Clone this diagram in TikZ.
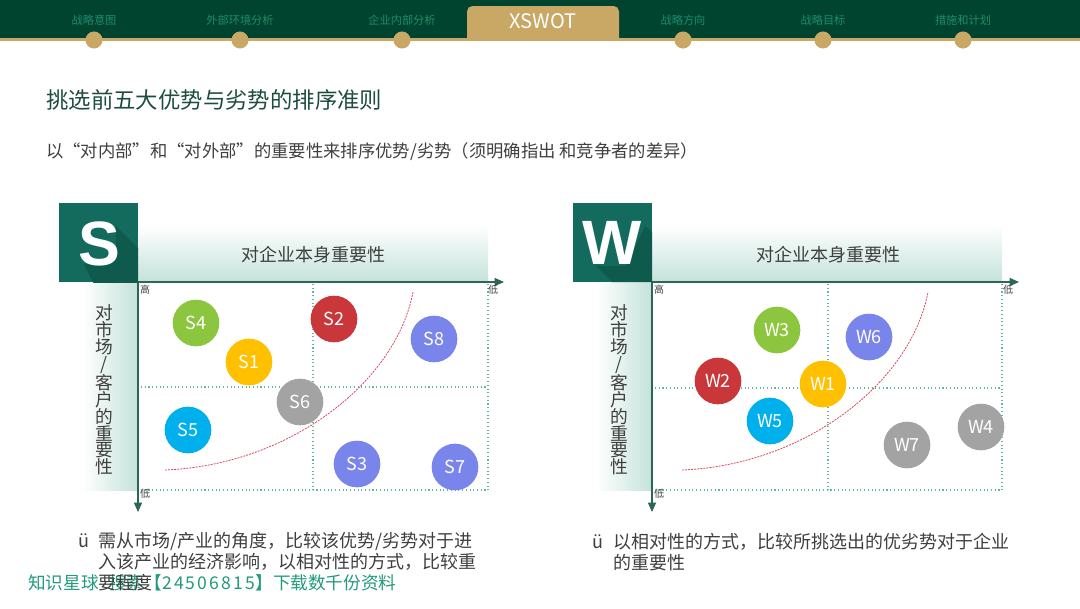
\documentclass[tikz,border=0pt]{standalone}
\usepackage{fontspec}
\newfontfamily\cjk{Noto Sans CJK SC}
\newfontfamily\lsans{Liberation Sans}
\usetikzlibrary{arrows.meta}
\definecolor{navbg}{HTML}{00442F}
\definecolor{gold}{HTML}{C9A865}
\definecolor{navtxt}{HTML}{1F8C6C}
\definecolor{titlegreen}{HTML}{1E4D3C}
\definecolor{txtgray}{HTML}{3F3F3F}
\definecolor{boxteal}{HTML}{136B5D}
\definecolor{boxshadow}{HTML}{0E5A4D}
\definecolor{bandteal}{HTML}{C4E2DA}
\definecolor{axisgreen}{HTML}{2C6656}
\definecolor{gridteal}{HTML}{5DB8A2}
\definecolor{curvered}{HTML}{D9475F}
\definecolor{cgreen}{HTML}{8CC63F}
\definecolor{cyellow}{HTML}{FFC000}
\definecolor{cred}{HTML}{C9373A}
\definecolor{cviolet}{HTML}{7A85EC}
\definecolor{cgray}{HTML}{A3A3A3}
\definecolor{ccyan}{HTML}{00B0EC}
\definecolor{wmteal}{HTML}{229A7E}
\tikzset{
  navlabel/.style={font=\cjk\fontsize{8.4}{10}\selectfont, text=navtxt, inner sep=0},
  navdot/.style={circle, fill=gold, minimum size=12.8pt, inner sep=0},
  ball/.style={circle, minimum size=35pt, inner sep=0, text=white, font=\cjk\fontsize{13.5}{15}\selectfont},
  axisline/.style={draw=axisgreen, line width=1pt, -{Triangle[length=7pt,width=6pt]}},
  gridline/.style={draw=gridteal, dotted, line width=0.8pt},
  ticklab/.style={font=\cjk\fontsize{7.5}{8}\selectfont, text=txtgray, inner sep=0},
  redcurve/.style={draw=curvered, dash pattern=on 1.5pt off 0.8pt, line width=0.6pt},
  bandtext/.style={font=\cjk\fontsize{13.5}{15}\selectfont, text=txtgray, inner sep=0},
  sidetext/.style={font=\cjk\fontsize{13.3}{12.6}\selectfont, text=txtgray, inner sep=0, align=center},
  bigletter/.style={font=\lsans\bfseries\fontsize{47}{47}\selectfont, text=white, inner sep=0},
  bodytext/.style={font=\cjk\fontsize{13.5}{15}\selectfont, text=txtgray, inner sep=0, anchor=west},
}
\begin{document}
\begin{tikzpicture}[x=0.75pt,y=-0.75pt]
\useasboundingbox (0,0) rectangle (1080,608);
\fill[white] (0,0) rectangle (1080,608);
% ---------- navigation bar
\fill[navbg] (0,0) rectangle (1080,39);
\fill[gold] (0,38) rectangle (1080,40.5);
\fill[gold] (467,40) {[rounded corners=4pt] -- (467,6) -- (619,6)} -- (619,40) -- cycle;
\node[font=\cjk\fontsize{15}{17}\selectfont, text=white, inner sep=0] (tab) at (543,21) {XSWOT};
\node[navlabel] (n1) at (94,20) {战略意图};
\node[navlabel] (n2) at (240,20) {外部环境分析};
\node[navlabel] (n3) at (402,20) {企业内部分析};
\node[navlabel] (n4) at (683,20) {战略方向};
\node[navlabel] (n5) at (823,20) {战略目标};
\node[navlabel] (n6) at (963,20) {措施和计划};
\node[navdot] (d1) at (94,40) {};
\node[navdot] (d2) at (240,40) {};
\node[navdot] (d3) at (402,40) {};
\node[navdot] (d4) at (683,40) {};
\node[navdot] (d5) at (823,40) {};
\node[navdot] (d6) at (963,40) {};
% ---------- titles
\node[font=\cjk\fontsize{16.8}{19}\selectfont, text=titlegreen, inner sep=0, anchor=west] (title) at (46,100) {挑选前五大优势与劣势的排序准则};
\node[font=\cjk\fontsize{13}{15}\selectfont, text=txtgray, inner sep=0, anchor=west] (sub) at (46,152) {以“对内部”和“对外部”的重要性来排序优势/劣势（须明确指出 和竞争者的差异）};

% =================== S chart
\shade[top color=white, bottom color=bandteal] (138,225) rectangle (488,282);
\shade[left color=white, right color=bandteal] (82,282) rectangle (138,490);
\fill[boxteal] (59,203) rectangle (138,282);
\begin{scope}
\clip (59,203) rectangle (138,282);
\fill[boxshadow] (116,226) -- (150,260) -- (150,300) -- (102,300) -- (84,264) -- (100,264) -- (116,250) -- cycle;
\end{scope}
\node[bigletter] (sletter) at (99,244) {S};
\node[bandtext] (shead) at (313,255) {对企业本身重要性};
\node[sidetext] (sside) at (104,390) {对\\市\\场\\/\\客\\户\\的\\重\\要\\性};
\draw[gridline] (141,387) -- (488,387);
\draw[gridline] (141,490) -- (488,490);
\draw[gridline] (313,284) -- (313,490);
\draw[gridline] (488,284) -- (488,490);
\coordinate (so) at (138,282);
\coordinate (sx) at (504,282);
\coordinate (sy) at (138,512);
\draw[axisline] (so) -- (sx);
\draw[axisline] (so) -- (sy);
\node[ticklab] (shi) at (145,290) {高};
\node[ticklab] (slox) at (493,290) {低};
\node[ticklab] (sloy) at (145,494) {低};
\coordinate (sc0) at (165,470);
\coordinate (sc1) at (413,292);
\draw[redcurve] (sc0) .. controls (290,465) and (396,382) .. (sc1);
\node[ball, fill=cgreen] (s4) at (196,323) {S4};
\node[ball, fill=cyellow] (s1) at (249,362) {S1};
\node[ball, fill=cred] (s2) at (334,319) {S2};
\node[ball, fill=cviolet] (s8) at (434,339) {S8};
\node[ball, fill=cgray] (s6) at (300,402) {S6};
\node[ball, fill=ccyan] (s5) at (188,430) {S5};
\node[ball, fill=cviolet] (s3) at (357,464) {S3};
\node[ball, fill=cviolet] (s7) at (455,467) {S7};

% =================== W chart
\shade[top color=white, bottom color=bandteal] (652,225) rectangle (1002,282);
\shade[left color=white, right color=bandteal] (596,282) rectangle (652,490);
\fill[boxteal] (573,203) rectangle (652,282);
\begin{scope}
\clip (573,203) rectangle (652,282);
\fill[boxshadow] (596,266) -- (612,282) -- (660,282) -- (660,240) -- (645,226) -- (626,266) -- cycle;
\end{scope}
\node[bigletter] (wletter) at (612,243) {W};
\node[bandtext] (whead) at (828,255) {对企业本身重要性};
\node[sidetext] (wside) at (619,390) {对\\市\\场\\/\\客\\户\\的\\重\\要\\性};
\draw[gridline] (655,388) -- (1002,388);
\draw[gridline] (655,490) -- (1002,490);
\draw[gridline] (828,284) -- (828,490);
\draw[gridline] (1002,284) -- (1002,490);
\coordinate (wo) at (652,282);
\coordinate (wx) at (1019,282);
\coordinate (wy) at (652,512);
\draw[axisline] (wo) -- (wx);
\draw[axisline] (wo) -- (wy);
\node[ticklab] (whi) at (659,290) {高};
\node[ticklab] (wlox) at (1008,290) {低};
\node[ticklab] (wloy) at (659,494) {低};
\coordinate (wc0) at (682,470);
\coordinate (wc1) at (928,292);
\draw[redcurve] (wc0) .. controls (806,465) and (911,382) .. (wc1);
\node[ball, fill=cgreen] (w3) at (777,330) {W3};
\node[ball, fill=cviolet] (w6) at (869,337) {W6};
\node[ball, fill=cred] (w2) at (718,381) {W2};
\node[ball, fill=cyellow] (w1) at (823,384) {W1};
\node[ball, fill=ccyan] (w5) at (770,421) {W5};
\node[ball, fill=cgray] (w7) at (907,445) {W7};
\node[ball, fill=cgray] (w4) at (981,427) {W4};

% =================== bottom texts (watermark underneath)
\node[font=\cjk\fontsize{13.2}{15}\selectfont, text=wmteal, inner sep=0, anchor=west] (wm) at (28,583) {知识星球\hspace{8pt}搜索【\makebox[70pt][s]{2\hfil 4\hfil 5\hfil 0\hfil 6\hfil 8\hfil 1\hfil 5}】下载数千份资料};
\node[bodytext] (sb) at (78,541) {ü};
\node[bodytext] (sl1) at (98,541) {需从市场/产业的角度，比较该优势/劣势对于进};
\node[bodytext] (sl2) at (98,562) {入该产业的经济影响，以相对性的方式，比较重};
\node[bodytext] (sl3) at (98,583) {要程度};
\node[bodytext] (wb) at (592,542) {ü};
\node[bodytext] (wl1) at (613,542) {以相对性的方式，比较所挑选出的优劣势对于企业};
\node[bodytext] (wl2) at (613,563) {的重要性};
\end{tikzpicture}
\end{document}
